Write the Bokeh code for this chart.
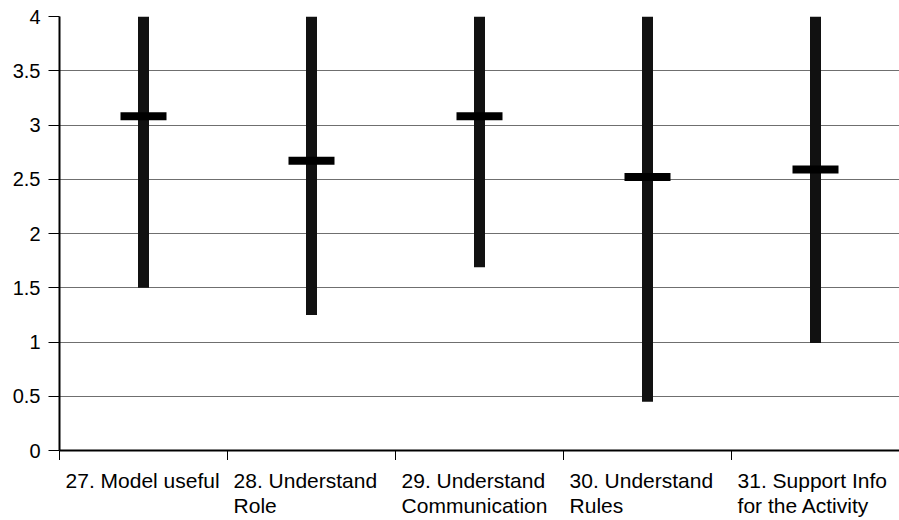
from bokeh.plotting import figure
from bokeh.layouts import column
from bokeh.models import Range1d, FixedTicker, CustomJSTickFormatter
from bokeh.core.properties import value
from bokeh.embed import file_html
from bokeh.resources import INLINE

categories_line1 = ["27. Model useful", "28. Understand", "29. Understand",
                    "30. Understand", "31. Support Info"]
categories_line2 = ["", "Role", "Communication", "Rules", "for the Activity"]
lows = [1.5, 1.25, 1.69, 0.45, 0.99]
highs = [4.0, 4.0, 4.0, 4.0, 4.0]
means = [3.08, 2.67, 3.08, 2.52, 2.59]
y_ticks = [0, 0.5, 1, 1.5, 2, 2.5, 3, 3.5, 4]

n = len(categories_line1)
xs = [i + 0.5 for i in range(n)]
label_pos = [i + 0.036 for i in range(n)]
bounds = list(range(n + 1))

font = "Liberation Sans"
fsize = "20px"
xfsize = "21px"

xr = Range1d(0, n)
p = figure(width=899, height=460, x_range=xr, y_range=Range1d(0, 4),
           output_backend="svg", toolbar_location=None,
           min_border_left=59, min_border_right=0, min_border_top=16, min_border_bottom=10)
p.outline_line_color = None
p.background_fill_color = "white"
p.border_fill_color = "white"

p.xgrid.visible = False
p.ygrid.ticker = FixedTicker(ticks=y_ticks)
p.ygrid.grid_line_color = "#6f6f6f"
p.ygrid.grid_line_width = 1

p.segment(x0=xs, y0=lows, x1=xs, y1=highs, line_width=11, line_color="#111111", line_cap="butt")
p.rect(x=xs, y=means, width=46, height=8, width_units="screen", height_units="screen",
       fill_color="#000000", line_color=None)

ya = p.yaxis[0]
ya.ticker = FixedTicker(ticks=y_ticks)
ya.formatter = CustomJSTickFormatter(code="return String(tick);")
ya.axis_line_color = "black"
ya.axis_line_width = 2
ya.major_tick_out = 11
ya.major_tick_in = 0
ya.major_tick_line_color = "black"
ya.minor_tick_out = 0
ya.minor_tick_in = 0
ya.major_label_standoff = 8
ya.major_label_text_font = font
ya.major_label_text_font_size = fsize
ya.major_label_text_color = "black"

xa = p.xaxis[0]
xa.ticker = FixedTicker(ticks=bounds, minor_ticks=[])
xa.formatter = CustomJSTickFormatter(code="return '';")
xa.axis_line_color = "black"
xa.axis_line_width = 2
xa.major_tick_out = 10
xa.major_tick_in = 0
xa.major_tick_line_color = "black"
xa.minor_tick_out = 0
xa.minor_tick_in = 0
xa.major_label_standoff = 0
xa.major_label_text_font_size = "0px"

# label strip below the plot (y measured in pixels from its top)
lab = figure(width=899, height=60, x_range=xr, y_range=Range1d(60, 0),
             output_backend="svg", toolbar_location=None,
             x_axis_type=None, y_axis_type=None,
             min_border_left=59, min_border_right=0, min_border_top=0, min_border_bottom=0)
lab.outline_line_color = None
lab.grid.visible = False
lab.background_fill_color = "white"
lab.border_fill_color = "white"

row_top = [8] * n
row_bottom = [33] * n
lab.text(x=label_pos, y=row_top, text=categories_line1, text_align="left",
         text_baseline="top", text_font=value(font), text_font_size=value(xfsize),
         text_color="black")
lab.text(x=label_pos, y=row_bottom, text=categories_line2, text_align="left",
         text_baseline="top", text_font=value(font), text_font_size=value(xfsize),
         text_color="black")

layout = column(p, lab, spacing=0)
open("out.html", "w").write(file_html(layout, INLINE))
